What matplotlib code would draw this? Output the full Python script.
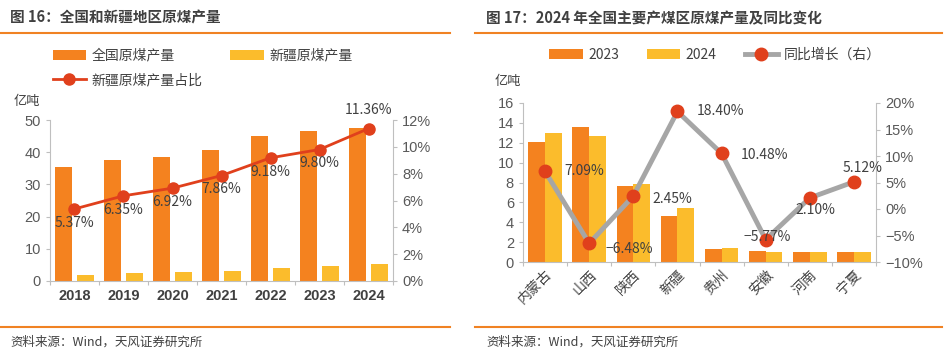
import matplotlib.pyplot as plt
import numpy as np
from matplotlib.lines import Line2D

plt.rcParams['font.family'] = ['Noto Sans CJK SC', 'DejaVu Sans']

# ---- data: left chart
years = ['2018', '2019', '2020', '2021', '2022', '2023', '2024']
national = [35.5, 37.5, 38.4, 40.7, 45.0, 46.6, 47.6]
xinjiang = [1.9, 2.4, 2.7, 3.2, 4.1, 4.6, 5.4]
share = [5.37, 6.35, 6.92, 7.86, 9.18, 9.80, 11.36]

# ---- data: right chart
regions = ['内蒙古', '山西', '陕西', '新疆', '贵州', '安徽', '河南', '宁夏']
prod_2023 = [12.1, 13.6, 7.6, 4.6, 1.3, 1.1, 1.0, 1.0]
prod_2024 = [13.0, 12.7, 7.8, 5.4, 1.4, 1.05, 1.0, 1.0]
yoy = [7.09, -6.48, 2.45, 18.40, 10.48, -5.77, 2.10, 5.12]

C_ORANGE = '#F4821F'
C_YELLOW = '#FBBC2C'
C_RED = '#E0401C'
C_GRAY = '#A6A6A6'
C_TEXT = '#404040'
C_TICK = '#595959'
C_SPINE = '#BFBFBF'
NUM_FONT = ['Liberation Sans', 'DejaVu Sans']

fig = plt.figure(figsize=(9.49, 3.54), dpi=100)


def px(x, y):
    return x / 949, 1 - y / 354


def style_axes(ax, ax2):
    for a in (ax, ax2):
        a.spines['top'].set_visible(False)
        for s in ('left', 'right', 'bottom'):
            a.spines[s].set_color(C_SPINE)
        a.tick_params(colors=C_SPINE, length=3, width=0.8)
        for lab in a.get_yticklabels():
            lab.set_color(C_TICK)
            lab.set_fontfamily(NUM_FONT)
            lab.set_fontsize(10.5)
    ax.spines['right'].set_visible(False)
    ax2.spines['left'].set_visible(False)
    ax2.spines['bottom'].set_visible(False)


# frame lines / titles
for x0, x1 in ((0, 450), (475, 942)):
    fig.add_artist(Line2D([x0 / 949, x1 / 949], [1 - 33 / 354] * 2, color='#F08223', lw=1.5))
    fig.add_artist(Line2D([x0 / 949, x1 / 949], [1 - 327 / 354] * 2, color='#F08223', lw=1.5))

fig.text(*px(10, 18), '图 16：全国和新疆地区原煤产量', fontsize=10.5, fontweight='bold',
         color=C_TEXT, va='center', ha='left')
fig.text(*px(486, 18), '图 17：2024 年全国主要产煤区原煤产量及同比变化', fontsize=10.5,
         fontweight='bold', color=C_TEXT, va='center', ha='left')
fig.text(*px(10, 342), '资料来源：Wind，天风证券研究所', fontsize=9, color=C_TEXT, va='center')
fig.text(*px(486, 342), '资料来源：Wind，天风证券研究所', fontsize=9, color=C_TEXT, va='center')

# ---------------- left chart
ax = fig.add_axes([50 / 949, 1 - 281 / 354, 343 / 949, 161 / 354])
ax2 = ax.twinx()
x = np.arange(len(years))
w = 0.35
b1 = ax.bar(x - 0.225, national, w, color=C_ORANGE, label='全国原煤产量')
b2 = ax.bar(x + 0.225, xinjiang, w, color=C_YELLOW, label='新疆原煤产量')
ax.set_ylim(0, 50)
ax.set_yticks(range(0, 51, 10))
ax.set_xlim(-0.5, len(years) - 0.5)
ax.set_xticks(np.arange(-0.5, len(years), 1))
ax.set_xticklabels([])
ax.set_xticks(x, minor=True)
ax.set_xticklabels(years, minor=True)
ax.tick_params(axis='x', which='minor', length=0, pad=6)
for lab in ax.get_xticklabels(minor=True):
    lab.set_color(C_TEXT)
    lab.set_fontfamily(NUM_FONT)
    lab.set_fontsize(10.5)
    lab.set_fontweight('bold')

l1, = ax2.plot(x, share, color=C_RED, lw=2, marker='o', ms=8, label='新疆原煤产量占比')
ax2.set_ylim(0, 12)
ax2.set_yticks(range(0, 13, 2))
ax2.set_yticklabels([f'{v}%' for v in range(0, 13, 2)])
for i, v in enumerate(share):
    if i == len(share) - 1:
        ax2.annotate(f'{v:.2f}%', (x[i], v), xytext=(0, 8), textcoords='offset points',
                     ha='center', va='bottom', fontsize=10, color=C_TEXT)
    else:
        ax2.annotate(f'{v:.2f}%', (x[i], v), xytext=(0, -5), textcoords='offset points',
                     ha='center', va='top', fontsize=10, color=C_TEXT)
style_axes(ax, ax2)
fig.text(*px(14, 101), '亿吨', fontsize=9.5, color=C_TEXT, va='center')

fig.legend(handles=[b1, l1, b2], ncol=2, loc='center left', bbox_to_anchor=(40 / 949, 1 - 68 / 354),
           frameon=False, fontsize=10, labelcolor=C_TEXT, handlelength=2.4, columnspacing=2.0,
           handletextpad=0.4, labelspacing=0.75)

# ---------------- right chart
bx = fig.add_axes([523 / 949, 1 - 262 / 354, 353 / 949, 159 / 354])
bx2 = bx.twinx()
x = np.arange(len(regions))
w = 0.38
c1 = bx.bar(x - w / 2, prod_2023, w, color=C_ORANGE, label='2023')
c2 = bx.bar(x + w / 2, prod_2024, w, color=C_YELLOW, label='2024')
bx.set_ylim(0, 16)
bx.set_yticks(range(0, 17, 2))
bx.set_xlim(-0.5, len(regions) - 0.5)
bx.set_xticks(np.arange(-0.5, len(regions), 1))
bx.set_xticklabels([])
bx.set_xticks(x, minor=True)
bx.set_xticklabels(regions, minor=True, rotation=45, ha='right', rotation_mode='anchor')
bx.tick_params(axis='x', which='minor', length=0, pad=4)
for lab in bx.get_xticklabels(minor=True):
    lab.set_color(C_TEXT)
    lab.set_fontsize(10)

l2, = bx2.plot(x, yoy, color=C_GRAY, lw=3.5, marker='o', ms=9, mfc=C_RED, mec=C_RED,
               label='同比增长（右）')
bx2.set_ylim(-10, 20)
bx2.set_yticks(range(-10, 21, 5))
bx2.set_yticklabels([f'{v}%'.replace('-', '−') for v in range(-10, 21, 5)])
offsets = [(14, 0), (12, -4), (14, -2), (14, 0), (14, -1), (-16, 2), (-10, -9), (-8, 10)]
for i, v in enumerate(yoy):
    dx, dy = offsets[i]
    bx2.annotate(f'{v:.2f}%'.replace('-', '−'), (x[i], v), xytext=(dx, dy), textcoords='offset points',
                 ha='left', va='center', fontsize=10, color=C_TEXT)
style_axes(bx, bx2)
fig.text(*px(495, 81), '亿吨', fontsize=9.5, color=C_TEXT, va='center')

fig.legend(handles=[c1, c2, l2], ncol=3, loc='center', bbox_to_anchor=(715 / 949, 1 - 55 / 354),
           frameon=False, fontsize=10, labelcolor=C_TEXT, handlelength=2.4, columnspacing=2.0,
           handletextpad=0.4)

fig.savefig('out.png', dpi=100)
